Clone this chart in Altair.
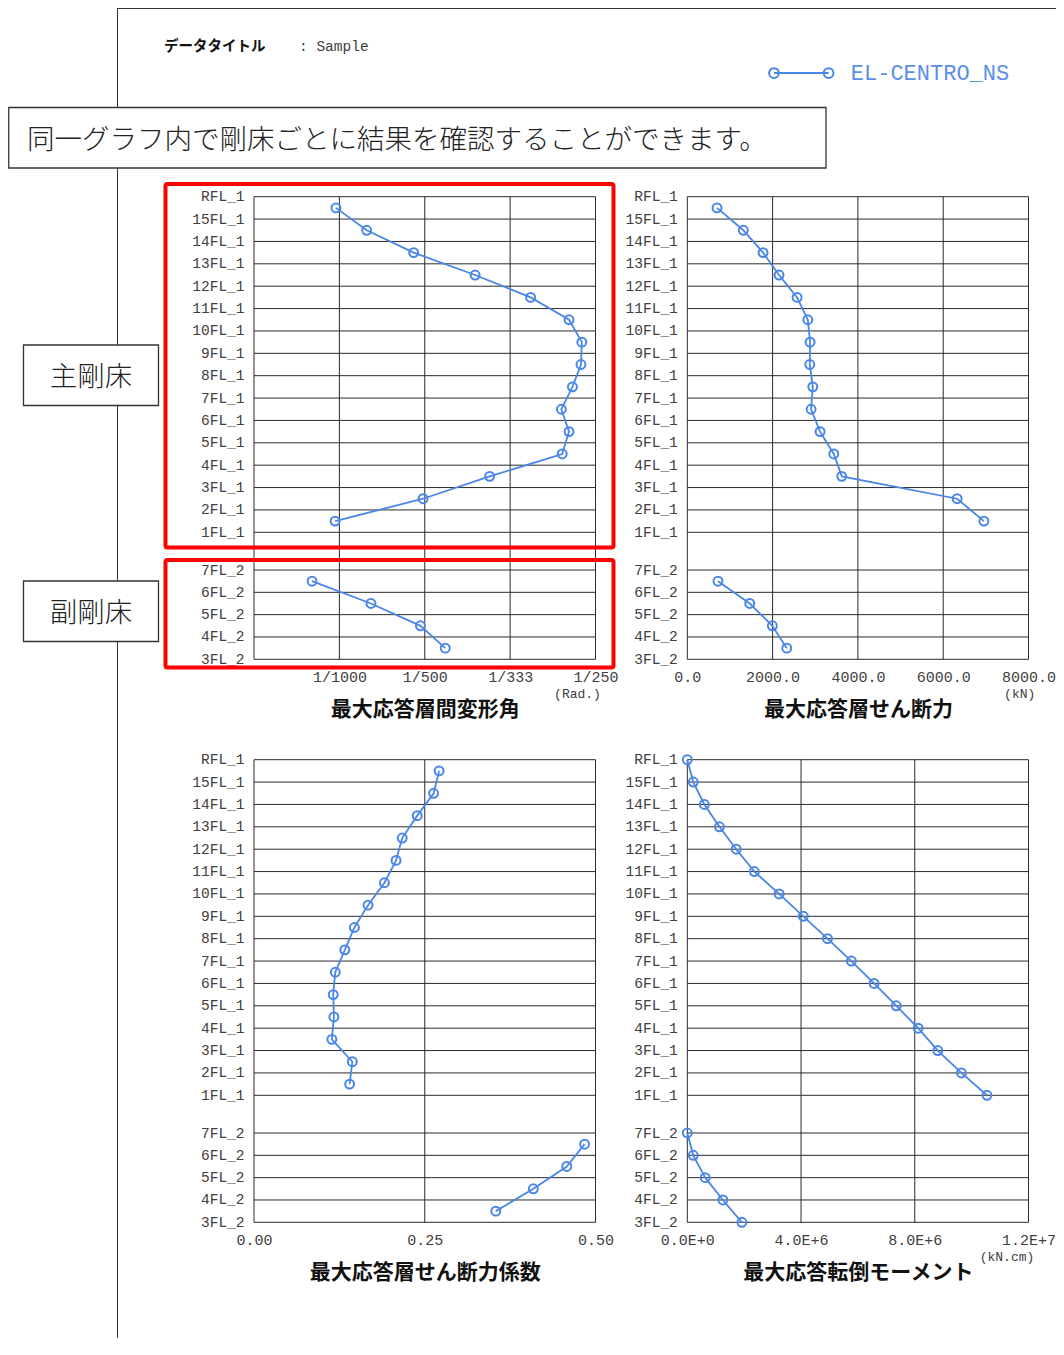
import json
import altair as alt
import pandas as pd

# ---------------- data ----------------
series_name = "EL-CENTRO_NS"

floors_main = ["RFL_1", "15FL_1", "14FL_1", "13FL_1", "12FL_1", "11FL_1", "10FL_1", "9FL_1",
               "8FL_1", "7FL_1", "6FL_1", "5FL_1", "4FL_1", "3FL_1", "2FL_1", "1FL_1"]
floors_sub = ["7FL_2", "6FL_2", "5FL_2", "4FL_2", "3FL_2"]

# story values (between floors), top story first
drift_main = [0.00096, 0.00132, 0.00187, 0.00259, 0.00324, 0.00369, 0.00384, 0.00383,
              0.00373, 0.00360, 0.00369, 0.00361, 0.00276, 0.00198, 0.00095]
drift_sub = [0.00068, 0.00137, 0.00195, 0.00224]

shear_main = [697, 1314, 1776, 2151, 2574, 2825, 2879, 2872,
              2942, 2902, 3113, 3435, 3622, 6327, 6954]
shear_sub = [720, 1464, 1994, 2332]

coef_main = [0.271, 0.263, 0.239, 0.217, 0.208, 0.191, 0.167, 0.147,
             0.133, 0.119, 0.116, 0.117, 0.114, 0.144, 0.140]
coef_sub = [0.484, 0.458, 0.409, 0.354]

# floor values, top floor first
moment_main = [0.0, 0.21e6, 0.60e6, 1.13e6, 1.72e6, 2.36e6, 3.23e6, 4.08e6,
               4.93e6, 5.77e6, 6.57e6, 7.35e6, 8.12e6, 8.81e6, 9.64e6, 10.54e6]
moment_sub = [0.0, 0.21e6, 0.63e6, 1.25e6, 1.92e6]

drift_ticks = [0.0, 0.001, 0.002, 0.003, 0.004]
drift_labels = ["", "1/1000", "1/500", "1/333", "1/250"]
shear_ticks = [0, 2000, 4000, 6000, 8000]
shear_labels = ["0.0", "2000.0", "4000.0", "6000.0", "8000.0"]
coef_ticks = [0.0, 0.25, 0.5]
coef_labels = ["0.00", "0.25", "0.50"]
moment_ticks = [0.0, 4.0e6, 8.0e6, 1.2e7]
moment_labels = ["0.0E+0", "4.0E+6", "8.0E+6", "1.2E+7"]

titles = ["最大応答層間変形角", "最大応答層せん断力", "最大応答層せん断力係数", "最大応答転倒モーメント"]
units = ["(Rad.)", "(kN)", "", "(kN.cm)"]

data_title = "データタイトル"
data_name = ": Sample"
callout_text = "同一グラフ内で剛床ごとに結果を確認することができます。"
main_label = "主剛床"
sub_label = "副剛床"

# ---------------- style / layout ----------------
BLUE = "#4a86e8"
LEGEND_BLUE = "#5b8fea"
GRID = "#2a2a2a"
LABEL = "#404040"
MONO = "Liberation Mono"
JP = "Noto Sans CJK JP"
OFF = 8          # page margin
W, H = 1048, 1330

COLS = [(254.0, 595.5), (687.3, 1028.5)]
ROWS = [(196.7, 532.3, 570.0, 659.3), (759.7, 1095.3, 1133.0, 1222.3)]


def c(v):
    return v - OFF


def y_axis(labels, left):
    n = len(labels)
    return alt.Axis(orient="left", values=list(range(n)),
                    labelExpr=f"{json.dumps(labels)}[datum.value]",
                    offset=-c(left), domain=False, ticks=False, tickSize=0, grid=False,
                    labelFont=MONO, labelFontSize=14.5, labelColor=LABEL, labelPadding=10,
                    labelAlign="right", labelBaseline="middle", labelOverlap=False,
                    labelFlush=False, labelBound=False, title=None)


def x_axis(ticks, labels, bottom, title):
    return alt.Axis(orient="bottom", values=ticks,
                    labelExpr=f"{json.dumps(labels)}[indexof({json.dumps(ticks)}, datum.value)]",
                    offset=c(bottom) - H, domain=False, ticks=False, tickSize=0, grid=False,
                    labelFont=MONO, labelFontSize=15, labelColor=LABEL, labelPadding=17,
                    labelBaseline="middle", labelAlign="center", labelOverlap=False,
                    labelFlush=False, labelBound=False,
                    title=title, titleFont=JP, titleFontSize=21, titleFontWeight="bold",
                    titleColor="#111111", titleY=50, titleBaseline="middle")


def panel(vmain, vsub, at_floor, ticks, labels, title, col, row, legend=False):
    x0, x1 = COLS[col]
    top, f1, f7, bottom = ROWS[row]
    dom = [ticks[0], ticks[-1]]
    xs = alt.Scale(domain=dom, range=[c(x0), c(x1)], nice=False, zero=False)
    ys_frame = alt.Scale(domain=[0, 1], range=[c(top), c(bottom)], nice=False, zero=False)
    ys_main = alt.Scale(domain=[0, len(floors_main) - 1], range=[c(top), c(f1)], nice=False, zero=False)
    ys_sub = alt.Scale(domain=[0, len(floors_sub) - 1], range=[c(f7), c(bottom)], nice=False, zero=False)

    vdf = pd.DataFrame({"v": ticks, "a": 0, "b": 1})
    vgrid = alt.Chart(vdf).mark_rule(color=GRID, strokeWidth=1).encode(
        x=alt.X("v:Q", scale=xs, axis=None),
        y=alt.Y("a:Q", scale=ys_frame, axis=None),
        y2="b:Q")

    hm = pd.DataFrame({"i": list(range(len(floors_main))), "a": dom[0], "b": dom[1]})
    hgrid_main = alt.Chart(hm).mark_rule(color=GRID, strokeWidth=1).encode(
        x=alt.X("a:Q", scale=xs, axis=None), x2="b:Q",
        y=alt.Y("i:Q", scale=ys_main, axis=y_axis(floors_main, x0)))

    hs = pd.DataFrame({"i": list(range(len(floors_sub))), "a": dom[0], "b": dom[1]})
    hgrid_sub = alt.Chart(hs).mark_rule(color=GRID, strokeWidth=1).encode(
        x=alt.X("a:Q", scale=xs, axis=x_axis(ticks, labels, bottom, title)), x2="b:Q",
        y=alt.Y("i:Q", scale=ys_sub, axis=y_axis(floors_sub, x0)))

    shift = 0.0 if at_floor else 0.5
    dm = pd.DataFrame({"pos": [i + shift for i in range(len(vmain))], "val": vmain, "s": series_name})
    ds = pd.DataFrame({"pos": [i + shift for i in range(len(vsub))], "val": vsub, "s": series_name})

    pt = alt.OverlayMarkDef(filled=False, size=80, strokeWidth=2, color=BLUE, shape="circle")
    enc_main = dict(x=alt.X("val:Q", scale=xs, axis=None),
                    y=alt.Y("pos:Q", scale=ys_main, axis=None),
                    order=alt.Order("pos:Q"))
    if legend:
        path = ("M-0.84,0L0.84,0"
                "M-0.99,0A0.15,0.15,0,1,0,-0.69,0A0.15,0.15,0,1,0,-0.99,0"
                "M0.69,0A0.15,0.15,0,1,0,0.99,0A0.15,0.15,0,1,0,0.69,0")
        enc_main["color"] = alt.Color("s:N", scale=alt.Scale(range=[BLUE]),
                                      legend=alt.Legend(orient="none", legendX=c(767.8), legendY=c(39.5),
                                                        title=None, symbolType=path, symbolSize=4225,
                                                        symbolStrokeWidth=2, symbolStrokeColor=BLUE,
                                                        symbolFillColor="transparent",
                                                        labelFont=MONO, labelFontSize=22,
                                                        labelColor=LEGEND_BLUE, labelOffset=16,
                                                        padding=0))
    line_main = alt.Chart(dm).mark_line(color=BLUE, strokeWidth=1.8, point=pt).encode(**enc_main)
    line_sub = alt.Chart(ds).mark_line(color=BLUE, strokeWidth=1.8, point=pt).encode(
        x=alt.X("val:Q", scale=xs, axis=None),
        y=alt.Y("pos:Q", scale=ys_sub, axis=None),
        order=alt.Order("pos:Q"))
    return [vgrid, hgrid_main, hgrid_sub, line_main, line_sub]


def text(t, x, y, font, size, color, weight="normal", align="left"):
    return alt.Chart(pd.DataFrame({"t": [t]})).mark_text(
        font=font, fontSize=size, color=color, fontWeight=weight, align=align, baseline="middle"
    ).encode(text="t:N", x=alt.value(c(x)), y=alt.value(c(y)))


def box(x1, x2, y1, y2, stroke, sw, fill="white", opacity=1.0, radius=0):
    return alt.Chart(pd.DataFrame({"k": [0]})).mark_rect(
        stroke=stroke, strokeWidth=sw, fill=fill, fillOpacity=opacity, cornerRadius=radius
    ).encode(x=alt.value(c(x1)), x2=alt.value(c(x2)), y=alt.value(c(y1)), y2=alt.value(c(y2)))


def hline(x1, x2, y, color, sw):
    return alt.Chart(pd.DataFrame({"k": [0]})).mark_rule(color=color, strokeWidth=sw).encode(
        x=alt.value(x1), x2=alt.value(x2), y=alt.value(y))


def vline(x, y1, y2, color, sw):
    return alt.Chart(pd.DataFrame({"k": [0]})).mark_rule(color=color, strokeWidth=sw).encode(
        x=alt.value(x), y=alt.value(y1), y2=alt.value(y2))


layers = []
# page frame lines
layers.append(vline(c(117.5), 0, H, "#333333", 1))
layers.append(hline(c(117.5), W, 0.5, "#333333", 1))
# header texts
layers.append(text(data_title, 164, 46.5, JP, 14.5, "#111111", weight="bold"))
layers.append(text(data_name, 299, 46.5, MONO, 14.5, LABEL))
# callout box
layers.append(box(8.75, 826, 107.5, 168, "#333333", 1.3))
layers.append(text(callout_text, 27, 141, JP, 27.5, "#222222", weight=300))
# side boxes
layers.append(box(23.5, 158.5, 345, 405.5, "#333333", 1.3))
layers.append(text(main_label, 91, 378, JP, 27.5, "#222222", weight=300, align="center"))
layers.append(box(23.5, 158.5, 581, 641.5, "#333333", 1.3))
layers.append(text(sub_label, 91, 614, JP, 27.5, "#222222", weight=300, align="center"))

# panels
layers += panel(drift_main, drift_sub, False, drift_ticks, drift_labels, titles[0], 0, 0, legend=True)
layers += panel(shear_main, shear_sub, False, shear_ticks, shear_labels, titles[1], 1, 0)
layers += panel(coef_main, coef_sub, False, coef_ticks, coef_labels, titles[2], 0, 1)
layers += panel(moment_main, moment_sub, True, moment_ticks, moment_labels, titles[3], 1, 1)

# unit labels
layers.append(text(units[0], 577.5, 693.5, MONO, 13, LABEL, align="center"))
layers.append(text(units[1], 1019.7, 693.5, MONO, 13, LABEL, align="center"))
layers.append(text(units[3], 1007, 1256.5, MONO, 13, LABEL, align="center"))

# red highlight frames
layers.append(box(165.5, 613.5, 184, 547.5, "#ff0000", 4, opacity=0, radius=2))
layers.append(box(165.5, 613.5, 560, 667.5, "#ff0000", 4, opacity=0, radius=2))

chart = alt.layer(*layers).resolve_scale(
    x="independent", y="independent"
).properties(
    width=W, height=H, autosize=alt.AutoSizeParams(type="none"), padding=0,
    background="white"
).configure_view(stroke=None)

chart.save("out.html", embed_options={"renderer": "svg", "actions": False})
